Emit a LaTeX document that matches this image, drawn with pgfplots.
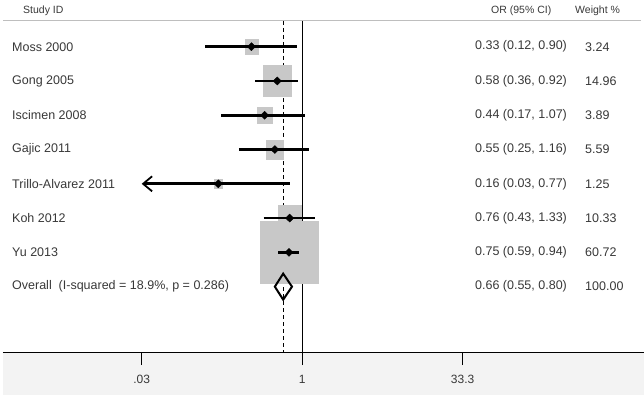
\documentclass[border=0pt]{standalone}
\usepackage{pgfplots}
\pgfplotsset{compat=1.18}
\usepackage{pgfplotstable}
\usepackage{fontspec}
\setmainfont{Liberation Sans}
\usetikzlibrary{arrows.meta}
\definecolor{boxgray}{HTML}{C8C8C8}
\definecolor{bandgray}{HTML}{F3F3F3}
\definecolor{txt}{HTML}{383838}
\definecolor{hdr}{HTML}{BEBEBE}
\newcommand\lab{\fontsize{12.5}{15}\selectfont}
\newcommand\hd{\fontsize{10.5}{12}\selectfont}

% row = -(position from top); or, lower and upper 95% CI, weight %
\pgfplotstableread{
row or lo hi w
-1 0.33 0.12 0.90 3.24
-2 0.58 0.36 0.92 14.96
-3 0.44 0.17 1.07 3.89
-4 0.55 0.25 1.16 5.59
-5 0.16 0.03 0.77 1.25
-6 0.76 0.43 1.33 10.33
-7 0.75 0.59 0.94 60.72
}\studies

\newcommand{\rowtext}[3]{\node[anchor=west,font=\lab,text=txt,inner sep=0pt] at ({rel axis cs:#1,0}|-{axis cs:1,#2}) {#3};}

\begin{document}
\begin{tikzpicture}
\useasboundingbox (0,0) rectangle (644pt,401pt);
% light band under the axis
\fill[bandgray] (3pt,6pt) rectangle (644pt,48.5pt);
% header
\draw[hdr, line width=1pt] (3pt,380pt) -- (641pt,380pt);
\node[anchor=west,font=\hd,text=txt,inner sep=0pt] at (23pt,390pt) {Study ID};
\node[anchor=west,font=\hd,text=txt,inner sep=0pt] at (491pt,390pt) {OR (95\% CI)};
\node[anchor=west,font=\hd,text=txt,inner sep=0pt] at (575pt,390pt) {Weight \%};
\begin{axis}[
  at={(3pt,48.5pt)}, anchor=south west,
  width=641pt, height=331.5pt, scale only axis,
  xmode=log, log basis x=10,
  xmin=0.001449, xmax=1750,
  ymin=-9.921, ymax=-0.25,
  axis x line=bottom, axis y line=none,
  x axis line style={-, line width=1.3pt, black},
  xtick={0.03,1,33.3}, xticklabels={.03,1,33.3},
  minor xtick={},
  xtick align=outside, major tick length=12.5pt,
  x tick style={line width=1.3pt, black},
  xticklabel style={font=\fontsize{12}{14}\selectfont, text=txt, yshift=-7pt},
  clip=false, clip marker paths=true,
]
% reference lines
\addplot[black, line width=1.4pt] coordinates {(1,-0.25) (1,-9.921)};
\addplot[black, line width=1.1pt, dash pattern=on 4pt off 3pt] coordinates {(0.66,-0.25) (0.66,-9.921)};
% weight boxes
\addplot[scatter, only marks, mark=square*,
  scatter/use mapped color={draw=boxgray, fill=boxgray},
  visualization depends on={3.7*sqrt(\thisrow{w}) \as \hs},
  scatter/@pre marker code/.append style={/tikz/mark size=\hs, /tikz/yscale=1.08}]
  table[x=or, y=row] {\studies};
% confidence intervals
\addplot[black, line width=2.8pt] coordinates {(0.12,-1) (0.90,-1)};
\addplot[black, line width=2.8pt] coordinates {(0.36,-2) (0.92,-2)};
\addplot[black, line width=2.8pt] coordinates {(0.17,-3) (1.07,-3)};
\addplot[black, line width=2.8pt] coordinates {(0.25,-4) (1.16,-4)};
\addplot[black, line width=2.8pt, {Straight Barb[length=9pt,width=15pt,line width=1.8pt]}-] coordinates {(0.03,-5) (0.77,-5)};
\addplot[black, line width=2.8pt] coordinates {(0.43,-6) (1.33,-6)};
\addplot[black, line width=2.8pt] coordinates {(0.59,-7) (0.94,-7)};
% point estimates
\addplot[only marks, mark=diamond*, mark size=4pt, black, mark options={xscale=1.35}] table[x=or, y=row] {\studies};
% overall diamond
\addplot[black, line width=2pt, line join=miter] coordinates {(0.55,-8) (0.66,-7.62) (0.80,-8) (0.66,-8.38)} -- cycle;
% labels
\rowtext{0.01404}{-1}{Moss 2000}
\rowtext{0.01404}{-2}{Gong 2005}
\rowtext{0.01404}{-3}{Iscimen 2008}
\rowtext{0.01404}{-4}{Gajic 2011}
\rowtext{0.01404}{-5}{Trillo-Alvarez 2011}
\rowtext{0.01404}{-6}{Koh 2012}
\rowtext{0.01404}{-7}{Yu 2013}
\rowtext{0.01404}{-8}{Overall\ \ (I-squared = 18.9\%, p = 0.286)}
\rowtext{0.7363}{-1}{0.33 (0.12, 0.90)}
\rowtext{0.7363}{-2}{0.58 (0.36, 0.92)}
\rowtext{0.7363}{-3}{0.44 (0.17, 1.07)}
\rowtext{0.7363}{-4}{0.55 (0.25, 1.16)}
\rowtext{0.7363}{-5}{0.16 (0.03, 0.77)}
\rowtext{0.7363}{-6}{0.76 (0.43, 1.33)}
\rowtext{0.7363}{-7}{0.75 (0.59, 0.94)}
\rowtext{0.7363}{-8}{0.66 (0.55, 0.80)}
\rowtext{0.9080}{-1}{3.24}
\rowtext{0.9080}{-2}{14.96}
\rowtext{0.9080}{-3}{3.89}
\rowtext{0.9080}{-4}{5.59}
\rowtext{0.9080}{-5}{1.25}
\rowtext{0.9080}{-6}{10.33}
\rowtext{0.9080}{-7}{60.72}
\rowtext{0.9080}{-8}{100.00}
\end{axis}
\end{tikzpicture}
\end{document}
